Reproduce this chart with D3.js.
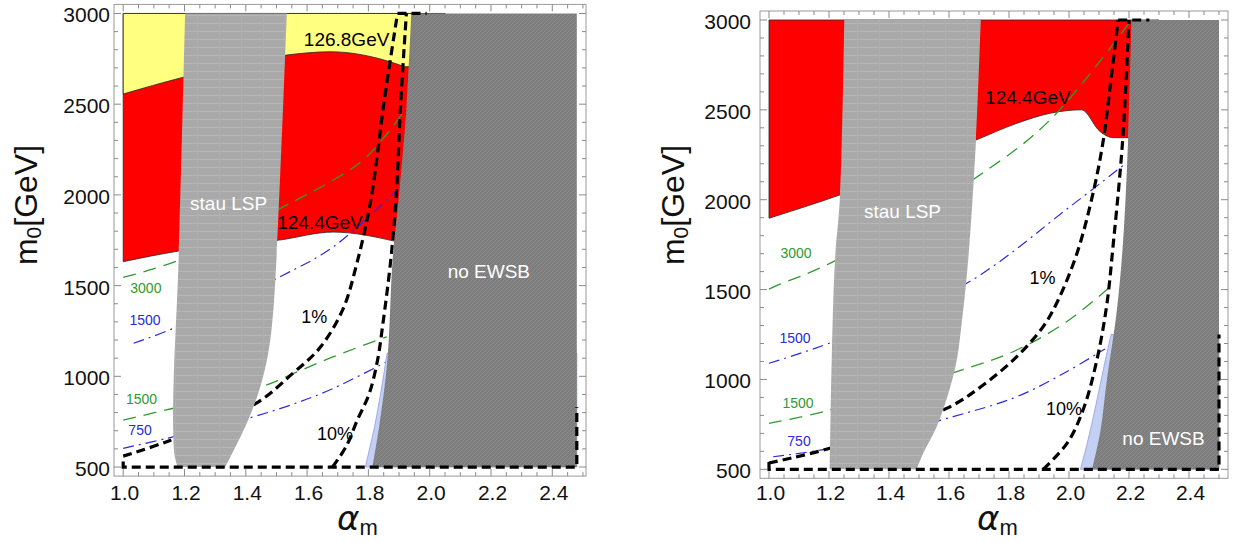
<!DOCTYPE html>
<html><head><meta charset="utf-8">
<script src="https://cdn.jsdelivr.net/npm/d3@7"></script>
<style>
html,body{margin:0;padding:0;background:#fff;}
svg{display:block;font-family:"Liberation Sans",Arial,sans-serif;}
</style></head><body>
<svg id="chart" width="1237" height="542"></svg>
<script>
// ---------- shared axis ticks ----------
const xTickValues = [1.0, 1.2, 1.4, 1.6, 1.8, 2.0, 2.2, 2.4];
const xTickLabels = ["1.0", "1.2", "1.4", "1.6", "1.8", "2.0", "2.2", "2.4"];
const yTickValues = [500, 1000, 1500, 2000, 2500, 3000];
const yTickLabels = ["500", "1000", "1500", "2000", "2500", "3000"];
const scanBox = [[1.0, 500], [3000]];   // scanned range: alpha_m from 1.0, m0 from 500 to 3000

// ---------- left panel ----------
const xMaxA = 2.48;
const stauLeftEdgeA = [[1.202, 3000], [1.18, 1604], [1.165, 1000], [1.163, 720], [1.168, 560], [1.178, 500]];
const stauRightEdgeA = [[1.333, 500], [1.398, 722], [1.441, 908], [1.469, 1090], [1.485, 1273], [1.50, 1641], [1.534, 3000]];
const ewsbEdgeA = [[1.813, 500], [1.835, 722], [1.862, 1090], [1.879, 1641], [1.90, 2000], [1.925, 2500], [1.94, 3000]];
const lightEdgeA = [[1.79, 500], [1.805, 610], [1.82, 722], [1.84, 906], [1.861, 1128]];
const higgs1244A = [[1.0, 1632], [1.186, 1692], [1.51, 1751], [1.685, 1795], [1.893, 1742]];
const higgs1268A = [[1.0, 2556], [1.19, 2646], [1.534, 2771], [1.675, 2789], [1.87, 2734], [1.917, 2707]];
const tune1A = [[1.0, 560], [1.142, 640], [1.433, 851], [1.553, 1016], [1.64, 1154], [1.716, 1366], [1.762, 1620], [1.808, 1972], [1.852, 2523], [1.895, 3000]];
const tune10A = [[1.683, 500], [1.727, 612], [1.764, 759], [1.803, 906], [1.83, 1090], [1.846, 1273], [1.873, 1641], [1.89, 1972], [1.906, 2523], [1.924, 3000]];
const edgeDashA = [[1.0, 530], [1.0, 500], [2.48, 500], [2.48, 830]];
const topDashA = [[1.895, 3000], [1.99, 3000]];
const gluino3000A = [[1.0, 1545], [1.183, 1641], [1.512, 1926], [1.686, 2082], [1.795, 2211], [1.92, 2468]];
const gluino1500A = [[1.0, 759], [1.164, 824], [1.453, 943], [1.556, 1016], [1.686, 1108], [1.86, 1218]];
const stop1500A = [[1.034, 1182], [1.164, 1265], [1.512, 1549], [1.686, 1714], [1.893, 2027]];
const stop750A = [[1.0, 603], [1.142, 658], [1.425, 777], [1.577, 860], [1.686, 934], [1.86, 1080]];
const massLabelsA = [["126.8GeV", 1.729, 2859], ["124.4GeV", 1.642, 1850]];
const tuneLabelsA = [["1%", 1.623, 1327], ["10%", 1.691, 682]];
const regionLabelsA = [["stau LSP", 1.344, 1955], ["no EWSB", 2.193, 1580]];
const gluinoLabelsA = [["3000", 1.074, 1487], ["1500", 1.06, 877]];
const stopLabelsA = [["1500", 1.071, 1311], ["750", 1.055, 702]];

// ---------- right panel ----------
const xMaxB = 2.5;
const stauLeftEdgeB = [[1.251, 3000], [1.237, 2027], [1.22, 1665], [1.209, 1109], [1.203, 500]];
const stauRightEdgeB = [[1.492, 500], [1.514, 589], [1.559, 737], [1.598, 923], [1.626, 1108], [1.641, 1294], [1.664, 1665], [1.69, 2332], [1.706, 3000]];
const ewsbEdgeB = [[2.077, 500], [2.104, 706], [2.126, 994], [2.159, 1378], [2.18, 1762], [2.197, 2338], [2.208, 3000]];
const lightEdgeB = [[2.038, 500], [2.06, 640], [2.09, 860], [2.115, 1060], [2.14, 1250]];
const higgs1244B = [[1.0, 1897], [1.237, 2027], [1.69, 2332], [1.826, 2425], [1.937, 2481], [2.042, 2500], [2.103, 2380], [2.148, 2345], [2.19, 2345]];
const tune1B = [[1.0, 535], [1.203, 617], [1.592, 839], [1.714, 969], [1.826, 1127], [1.914, 1294], [1.962, 1435], [2.027, 1704], [2.082, 2050], [2.115, 2338], [2.137, 2626], [2.164, 3000]];
const tune10B = [[1.914, 500], [1.995, 648], [2.049, 840], [2.093, 1109], [2.126, 1416], [2.148, 1762], [2.17, 2146], [2.183, 2434], [2.2, 3000]];
const edgeDashB = [[1.0, 540], [1.0, 500], [2.5, 500], [2.5, 1250]];
const topDashB = [[2.164, 3000], [2.268, 3000]];
const gluino3000B = [[1.0, 1503], [1.031, 1526], [1.203, 1646], [1.703, 2138], [1.937, 2444], [2.208, 3000]];
const gluino1500B = [[1.0, 756], [1.181, 820], [1.626, 1043], [1.826, 1164], [1.992, 1321], [2.148, 1531]];
const stop1500B = [[1.0, 1090], [1.214, 1210], [1.659, 1535], [2.003, 1961], [2.18, 2190]];
const stop750B = [[1.014, 570], [1.203, 617], [1.614, 793], [1.826, 904], [1.992, 1043], [2.12, 1170]];
const massLabelsB = [["124.4GeV", 1.863, 2566]];
const tuneLabelsB = [["1%", 1.912, 1564], ["10%", 1.983, 835]];
const regionLabelsB = [["stau LSP", 1.445, 1937], ["no EWSB", 2.315, 674]];
const gluinoLabelsB = [["3000", 1.09, 1706], ["1500", 1.097, 871]];
const stopLabelsB = [["1500", 1.087, 1230], ["750", 1.1, 660]];

// ---------- layout ----------
const panels = [
  { id: "A", xDomain: [0.97, 2.51], frame: { x0: 114, x1: 586, y0: 4.4, y1: 476.1 },
    xMax: xMaxA, xFill: 2.05, stauL: stauLeftEdgeA, stauR: stauRightEdgeA, ewsb: ewsbEdgeA, light: lightEdgeA,
    lower: higgs1244A, upper: higgs1268A, tune1: tune1A, tune10: tune10A, edgeDash: edgeDashA, topDash: topDashA,
    g3000: gluino3000A, g1500: gluino1500A, s1500: stop1500A, s750: stop750A,
    massLabels: massLabelsA, tuneLabels: tuneLabelsA, regionLabels: regionLabelsA, gluinoLabels: gluinoLabelsA, stopLabels: stopLabelsA,
    yLabelGap: 4, yTitleX: 37, xTitleX: 337 },
  { id: "B", xDomain: [0.97, 2.53], frame: { x0: 760, x1: 1228, y0: 11.0, y1: 478.3 },
    xMax: xMaxB, xFill: 2.3, stauL: stauLeftEdgeB, stauR: stauRightEdgeB, ewsb: ewsbEdgeB, light: lightEdgeB,
    lower: higgs1244B, upper: null, tune1: tune1B, tune10: tune10B, edgeDash: edgeDashB, topDash: topDashB,
    g3000: gluino3000B, g1500: gluino1500B, s1500: stop1500B, s750: stop750B,
    massLabels: massLabelsB, tuneLabels: tuneLabelsB, regionLabels: regionLabelsB, gluinoLabels: gluinoLabelsB, stopLabels: stopLabelsB,
    yLabelGap: 9, yTitleX: 684, xTitleX: 977 }
];
const yDomain = [450, 3050];

const svg = d3.select("#chart");
const defs = svg.append("defs");

// texture for the stau-LSP band: light grey with faint horizontal rules
const pStau = defs.append("pattern").attr("id", "stauTex").attr("patternUnits", "userSpaceOnUse")
  .attr("width", 22).attr("height", 8);
pStau.append("rect").attr("width", 22).attr("height", 8).attr("fill", "#a9a9a9");
pStau.append("line").attr("x1", 0).attr("x2", 22).attr("y1", 7.5).attr("y2", 7.5).attr("stroke", "#b6b6b6").attr("stroke-width", 1);
pStau.append("line").attr("x1", 21.5).attr("x2", 21.5).attr("y1", 0).attr("y2", 8).attr("stroke", "#afafaf").attr("stroke-width", 1);

// texture for the no-EWSB region: dark grey with fine diagonal hatching
const pEw = defs.append("pattern").attr("id", "ewsbTex").attr("patternUnits", "userSpaceOnUse")
  .attr("width", 4).attr("height", 4);
pEw.append("rect").attr("width", 4).attr("height", 4).attr("fill", "#7d7d7d");
pEw.append("path").attr("d", "M-1,1 L1,-1 M0,4 L4,0 M3,5 L5,3").attr("stroke", "#8b8b8b").attr("stroke-width", 1);

function drawPanel(p) {
  const x = d3.scaleLinear().domain(p.xDomain).range([p.frame.x0, p.frame.x1]);
  const y = d3.scaleLinear().domain(yDomain).range([p.frame.y1, p.frame.y0]);
  const smooth = d3.line().x(d => x(d[0])).y(d => y(d[1])).curve(d3.curveCatmullRom.alpha(0.5));
  const monoX = d3.line().x(d => x(d[0])).y(d => y(d[1])).curve(d3.curveMonotoneX);
  const poly = d3.line().x(d => x(d[0])).y(d => y(d[1]));
  const join = parts => parts.map((s, i) => i ? s.replace(/^M/, "L") : s).join("") + "Z";
  const xLo = scanBox[0][0], yLo = scanBox[0][1], yHi = scanBox[1][0];

  defs.append("clipPath").attr("id", "clip" + p.id).append("rect")
    .attr("x", p.frame.x0).attr("y", p.frame.y0)
    .attr("width", p.frame.x1 - p.frame.x0).attr("height", p.frame.y1 - p.frame.y0);
  const g = svg.append("g");
  const plot = g.append("g").attr("clip-path", `url(#clip${p.id})`);

  // Higgs-mass bands: red above the 124.4 GeV contour, yellow above 126.8 GeV
  const band = (edge, fill) => {
    const last = edge[edge.length - 1];
    plot.append("path")
      .attr("d", join([monoX(edge), poly([[p.xFill, last[1]], [p.xFill, yHi], [xLo, yHi]])]))
      .attr("fill", fill).attr("stroke", "#262626").attr("stroke-width", 0.8);
  };
  band(p.lower, "#ff0000");
  if (p.upper) band(p.upper, "#ffff80");

  // gluino (green) and stop (blue) mass contours
  [p.g3000, p.g1500].forEach(d => plot.append("path").attr("d", smooth(d)).attr("fill", "none")
    .attr("stroke", "#2f9a2f").attr("stroke-width", 1.3).attr("stroke-dasharray", "13,8"));
  [p.s1500, p.s750].forEach(d => plot.append("path").attr("d", smooth(d)).attr("fill", "none")
    .attr("stroke", "#2b2bd6").attr("stroke-width", 1.2).attr("stroke-dasharray", "11,5,2,5"));

  // fine-tuning contours
  [p.tune1, p.tune10].forEach(d => plot.append("path").attr("d", smooth(d)).attr("fill", "none")
    .attr("stroke", "#000").attr("stroke-width", 3.2).attr("stroke-dasharray", "9,5"));

  // light-blue sliver next to the EWSB boundary
  const ltLast = p.light[p.light.length - 1];
  plot.append("path")
    .attr("d", join([smooth(p.light), poly([[p.xMax, ltLast[1]], [p.xMax, yLo]])]))
    .attr("fill", "#c4cff4").attr("stroke", "#8f9de0").attr("stroke-width", 0.8);

  // stau LSP band
  plot.append("path").attr("d", join([smooth(p.stauL), smooth(p.stauR)]))
    .attr("fill", "url(#stauTex)");

  // no EWSB region
  plot.append("path").attr("d", join([smooth(p.ewsb), poly([[p.xMax, yHi], [p.xMax, yLo]])]))
    .attr("fill", "url(#ewsbTex)");

  // scan-boundary segments of the fine-tuning contours
  [p.edgeDash, p.topDash].forEach(d => plot.append("path").attr("d", poly(d)).attr("fill", "none")
    .attr("stroke", "#000").attr("stroke-width", 3.2).attr("stroke-dasharray", "9,5"));

  // annotations
  const put = (arr, fill, size) => arr.forEach(([t, a, b]) => g.append("text")
    .attr("x", x(a)).attr("y", y(b)).attr("text-anchor", "middle").attr("dominant-baseline", "central")
    .attr("fill", fill).attr("font-size", size).text(t));
  put(p.massLabels, "#000", 19);
  put(p.tuneLabels, "#000", 18);
  put(p.regionLabels, "#fff", 19);
  put(p.gluinoLabels, "#2f9a2f", 14);
  put(p.stopLabels, "#2b2bd6", 14);

  // frame
  g.append("rect").attr("x", p.frame.x0).attr("y", p.frame.y0)
    .attr("width", p.frame.x1 - p.frame.x0).attr("height", p.frame.y1 - p.frame.y0)
    .attr("fill", "none").attr("stroke", "#9a9a9a").attr("stroke-width", 1);

  // ticks on all four sides, pointing inward
  const tk = g.append("g").attr("stroke", "#8a8a8a").attr("stroke-width", 1);
  const xMinor = d3.range(0, 31).map(i => 1.0 + i * 0.05).filter(v => v <= p.xDomain[1]);
  xMinor.forEach(v => {
    const major = xTickValues.some(t => Math.abs(t - v) < 1e-6);
    const L = major ? 7 : 4, px = x(v);
    tk.append("line").attr("x1", px).attr("x2", px).attr("y1", p.frame.y1).attr("y2", p.frame.y1 - L);
    tk.append("line").attr("x1", px).attr("x2", px).attr("y1", p.frame.y0).attr("y2", p.frame.y0 + L);
  });
  const yMinor = d3.range(500, 3001, 100);
  yMinor.forEach(v => {
    const major = yTickValues.includes(v);
    const L = major ? 7 : 4, py = y(v);
    tk.append("line").attr("x1", p.frame.x0).attr("x2", p.frame.x0 + L).attr("y1", py).attr("y2", py);
    tk.append("line").attr("x1", p.frame.x1).attr("x2", p.frame.x1 - L).attr("y1", py).attr("y2", py);
  });

  // tick labels
  xTickValues.forEach((v, i) => g.append("text").attr("x", x(v) + 1.5).attr("y", 500)
    .attr("text-anchor", "middle").attr("font-size", 21).attr("fill", "#111").text(xTickLabels[i]));
  yTickValues.forEach((v, i) => g.append("text").attr("x", p.frame.x0 - p.yLabelGap).attr("y", y(v) + 1.5)
    .attr("text-anchor", "end").attr("dominant-baseline", "central").attr("font-size", 21)
    .attr("fill", "#111").text(yTickLabels[i]));

  // axis titles
  const yt = g.append("text").attr("transform", `translate(${p.yTitleX},205) rotate(-90)`)
    .attr("text-anchor", "middle").attr("font-size", 32).attr("fill", "#111");
  yt.append("tspan").text("m");
  yt.append("tspan").attr("font-size", 21).attr("dy", 4).text("0");
  yt.append("tspan").attr("dy", -4).text("[GeV]");

  const xt = g.append("text").attr("x", p.xTitleX).attr("y", 530).attr("fill", "#111");
  xt.append("tspan").attr("font-size", 34).attr("font-family", "DejaVu Sans, sans-serif")
    .attr("font-style", "oblique").text("α");
  xt.append("tspan").attr("font-size", 22).attr("dy", 5).text("m");
}

panels.forEach(drawPanel);
</script>
</body></html>
